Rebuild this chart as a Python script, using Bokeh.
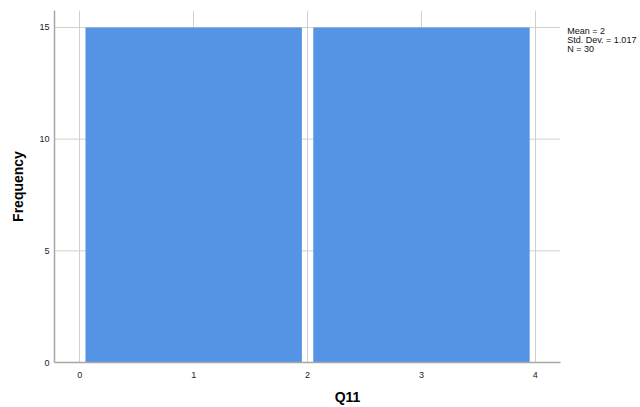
from bokeh.plotting import figure
from bokeh.models import FixedTicker, Label, Range1d
from bokeh.embed import file_html
from bokeh.resources import INLINE

# Data
bin_left = [0, 2]
bin_right = [2, 4]
counts = [15, 15]
x_ticks = [0, 1, 2, 3, 4]
y_ticks = [0, 5, 10, 15]
stat_lines = ["Mean = 2", "Std. Dev. = 1.017", "N = 30"]
x_label = "Q11"
y_label = "Frequency"

inset = 0.05
FONT = "Liberation Sans"
X_MIN, X_AXIS_END, X_MAX = -0.222, 4.217, 4.923
GRID = "#d0d0d0"

p = figure(width=640, height=407, output_backend="svg", toolbar_location=None,
           x_range=Range1d(X_MIN, X_MAX), y_range=Range1d(0, 15.76),
           min_border_left=54, min_border_right=0, min_border_top=10,
           min_border_bottom=44)
p.outline_line_color = None
p.background_fill_color = "white"

# horizontal grid lines limited to the axis extent
p.segment(x0=X_MIN, x1=X_AXIS_END, y0=y_ticks[1:], y1=y_ticks[1:],
          line_color=GRID, line_width=1)

p.quad(left=[l + inset for l in bin_left], right=[r - inset for r in bin_right],
       bottom=0, top=counts, fill_color="#5594E4", line_color=None)

for ax in (p.xaxis[0], p.yaxis[0]):
    ax.axis_line_color = "#a6a6a6"
    ax.axis_line_width = 1.5
    ax.major_tick_line_color = None
    ax.minor_tick_line_color = None
    ax.major_tick_out = 0
    ax.major_tick_in = 0
    ax.minor_tick_out = 0
    ax.major_label_text_font = FONT
    ax.major_label_text_font_size = "9px"
    ax.major_label_text_color = "#222222"
    ax.axis_label_text_font = FONT
    ax.axis_label_text_font_size = "14px"
    ax.axis_label_text_font_style = "bold"
    ax.axis_label_text_color = "#000000"

p.xaxis.ticker = FixedTicker(ticks=x_ticks)
p.yaxis.ticker = FixedTicker(ticks=y_ticks)
p.xaxis.bounds = (X_MIN, X_AXIS_END)
p.xaxis.axis_label = x_label
p.yaxis.axis_label = y_label
p.xaxis.major_label_standoff = 9
p.xaxis.axis_label_standoff = 8
p.yaxis.major_label_standoff = 5
p.yaxis.axis_label_standoff = 10

p.xgrid.ticker = FixedTicker(ticks=x_ticks)
p.xgrid.grid_line_color = GRID
p.xgrid.grid_line_width = 1
p.ygrid.grid_line_color = None

for i, s in enumerate(stat_lines):
    p.add_layout(Label(x=4.28, y=14.82 - i * 0.4, text=s, text_font=FONT,
                       text_font_size="9px", text_color="#111111",
                       text_baseline="middle"))

open("out.html", "w").write(file_html(p, INLINE))
